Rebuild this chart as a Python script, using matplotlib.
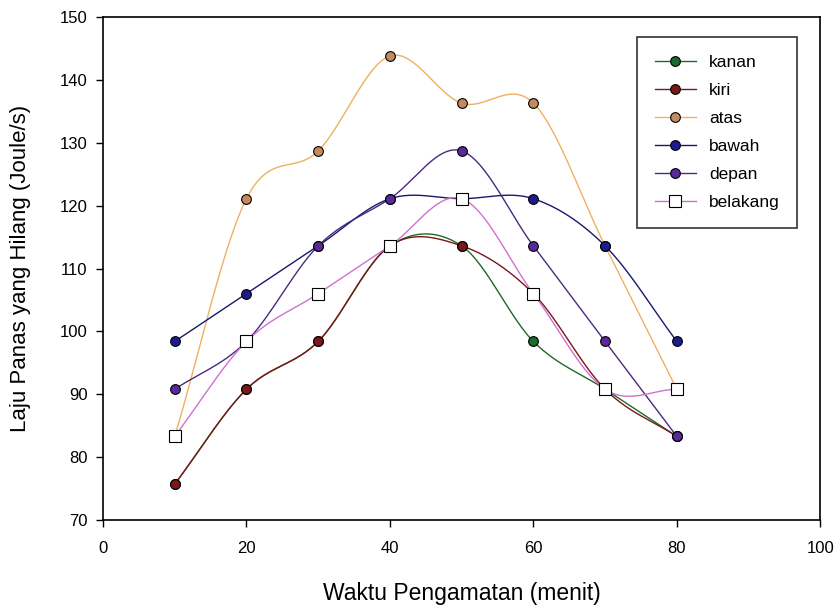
import matplotlib.pyplot as plt
import numpy as np

plt.rcParams['font.family'] = ['Liberation Sans', 'DejaVu Sans']

waktu = [10, 20, 30, 40, 50, 60, 70, 80]
kanan = [75.7, 90.8, 98.4, 113.6, 113.6, 98.4, 90.8, 83.3]
kiri = [75.7, 90.8, 98.4, 113.6, 113.6, 106.0, 90.8, 83.3]
atas = [83.3, 121.1, 128.7, 143.8, 136.3, 136.3, 113.6, 90.8]
bawah = [98.4, 106.0, 113.6, 121.1, 121.1, 121.1, 113.6, 98.4]
depan = [90.8, 98.4, 113.6, 121.1, 128.7, 113.6, 98.4, 83.3]
belakang = [83.3, 98.4, 106.0, 113.6, 121.1, 106.0, 90.8, 90.8]


def smooth(x, y, n=30):
    # catmull-rom style cubic hermite through the points
    x = np.asarray(x, float)
    y = np.asarray(y, float)
    m = np.gradient(y, x)
    xs, ys = [], []
    for i in range(len(x) - 1):
        h = x[i + 1] - x[i]
        t = np.linspace(0, 1, n)
        h00 = 2 * t**3 - 3 * t**2 + 1
        h10 = t**3 - 2 * t**2 + t
        h01 = -2 * t**3 + 3 * t**2
        h11 = t**3 - t**2
        xs.append(x[i] + t * h)
        ys.append(h00 * y[i] + h10 * h * m[i] + h01 * y[i + 1] + h11 * h * m[i + 1])
    return np.concatenate(xs), np.concatenate(ys)


series = [
    ('kanan', kanan, '#1c6a2c', '#1c6a2c', 'o'),
    ('kiri', kiri, '#7a1818', '#7a1818', 'o'),
    ('atas', atas, '#f0b060', '#c48a60', 'o'),
    ('bawah', bawah, '#18186e', '#1c1c8c', 'o'),
    ('depan', depan, '#4a2a80', '#5a2a9a', 'o'),
    ('belakang', belakang, '#d070d0', 'white', 's'),
]

fig = plt.figure(figsize=(8.36, 6.09), dpi=100)
ax = fig.add_axes([0.1232, 0.1461, 0.858, 0.826])

for name, vals, lc, mc, mk in series:
    ms = 7 if mk == 'o' else 8.5
    sx, sy = smooth(waktu, vals)
    ax.plot(sx, sy, color=lc, lw=1.0, zorder=2)
    ax.plot(waktu, vals, linestyle='none', marker=mk, markersize=ms,
            markerfacecolor=mc, markeredgecolor='black', markeredgewidth=0.8, zorder=3)
    ax.plot([], [], color=lc, lw=1.0, marker=mk, markersize=ms,
            markerfacecolor=mc, markeredgecolor='black', markeredgewidth=0.8, label=name)

ax.set_xlim(0, 100)
ax.set_ylim(70, 150)
ax.set_xticks([0, 20, 40, 60, 80, 100])
ax.set_yticks(np.arange(70, 151, 10))
ax.tick_params(direction='out', length=5, width=1, labelsize=12, colors='black')
ax.tick_params(axis='x', pad=10)
ax.tick_params(axis='y', pad=6)
for s in ax.spines.values():
    s.set_linewidth(1.2)

ax.set_xlabel('Waktu Pengamatan (menit)', fontsize=16.5, labelpad=19)
ax.set_ylabel('Laju Panas yang Hilang (Joule/s)', fontsize=16, labelpad=21)

leg = ax.legend(loc='upper right', bbox_to_anchor=(0.968, 0.960), fontsize=12.5,
                frameon=True, fancybox=False, edgecolor='black', handlelength=2.4,
                handletextpad=0.75, labelspacing=0.75, borderpad=1.0, borderaxespad=0)
leg.get_frame().set_linewidth(1.2)

fig.savefig('out.png', dpi=100)
